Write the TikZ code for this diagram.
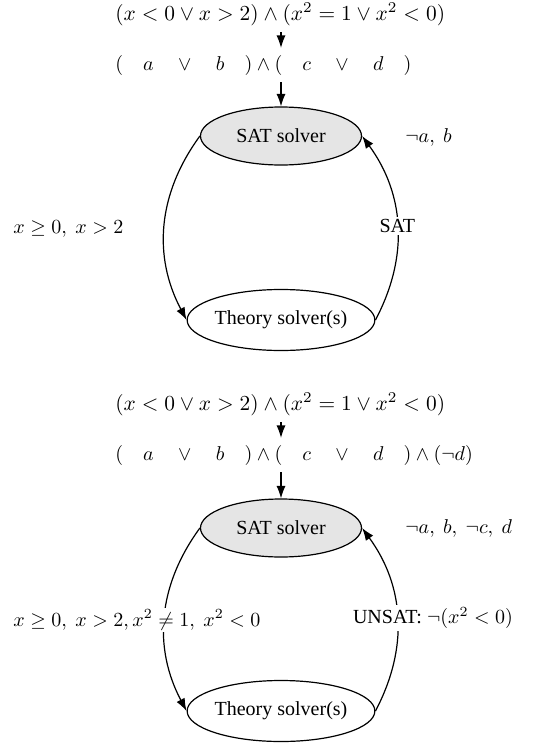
\documentclass[tikz,border=0pt]{standalone}
\usepackage[no-math]{fontspec}
\setmainfont{Liberation Serif}
\usepackage{amsmath, amssymb}
\usepackage{graphicx}
\usepackage{xcolor}
\usepackage{tikz}
\usetikzlibrary{arrows.meta, shapes.geometric}

\begin{document}
\begin{tikzpicture}[x=0.5pt, y=-0.5pt,
    solver/.style={draw, ellipse, semithick, minimum width=80.5pt,
                   minimum height=29pt, inner xsep=0pt},
    formula/.style={anchor=west, inner xsep=1pt},
    arr/.style={-{Latex[length=2.2mm, width=1.6mm]}, semithick},
    lbl/.style={fill=white, inner sep=1pt},
    every node/.append style={font=\normalsize}
  ]
  \useasboundingbox (0,0) rectangle (532,744);

  % first round: the SAT solver finds a model
  \node[formula] (form) at (113,14)
    {\scalebox{1.07}{$(x<0 \vee x>2) \wedge (x^2=1 \vee x^2<0)$}};
  \node[formula] (abs) at (113,65)
    {$(\quad a\quad \vee\quad b\quad)\wedge(\quad c\quad \vee\quad d\quad)$};
  \node[solver, fill=gray!20] (sat) at (281,136) {SAT solver};
  \node[solver, minimum height=30.5pt] (theory) at (281,320) {Theory solver(s)};

  \draw[arr] (form.south -| sat.north) -- (abs.north -| sat.north);
  \draw[arr] (abs.south -| sat.north) -- (sat.north);
  \draw[arr] (sat.west) to[bend right=32] (theory.west);
  \draw[arr] (theory.east) to[bend right=32] node[lbl] {SAT} (sat.east);

  \node[lbl, anchor=west] (assign) at (11,229) {$x \geq 0,\ x>2$};
  \node[anchor=west, inner sep=1pt] (model) at (403,137) {$\neg a,\ b$};

  % second round: the learned clause is added
  \node[formula] (form2) at (113,404)
    {\scalebox{1.07}{$(x<0 \vee x>2) \wedge (x^2=1 \vee x^2<0)$}};
  \node[formula] (abs2) at (113,455)
    {$(\quad a\quad \vee\quad b\quad)\wedge(\quad c\quad \vee\quad d\quad)\wedge(\neg d)$};
  \node[solver, fill=gray!20] (sat2) at (281,528) {SAT solver};
  \node[solver, minimum height=30.5pt] (theory2) at (281,711) {Theory solver(s)};

  \draw[arr] (form2.south -| sat2.north) -- (abs2.north -| sat2.north);
  \draw[arr] (abs2.south -| sat2.north) -- (sat2.north);
  \draw[arr] (sat2.west) to[bend right=32] (theory2.west);
  \draw[arr] (theory2.east) to[bend right=32] (sat2.east);

  \node[lbl, anchor=west] (assign2) at (11,620)
    {$x \geq 0,\ x>2, x^2 \neq 1,\ x^2<0$};
  \node[lbl] (unsat) at (433,618) {UNSAT: $\neg(x^2<0)$};
  \node[anchor=west, inner sep=1pt] (model2) at (403,528) {$\neg a,\ b,\ \neg c,\ d$};
\end{tikzpicture}
\end{document}
